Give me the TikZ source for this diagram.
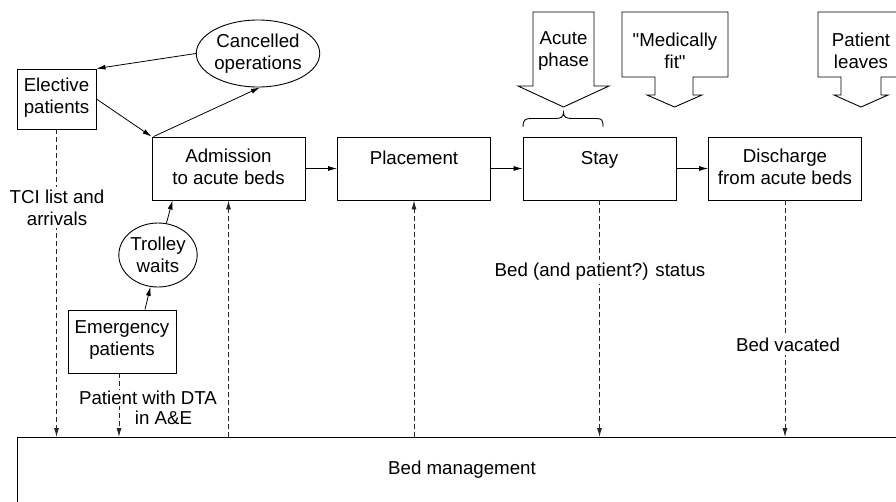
\documentclass[tikz,border=0pt]{standalone}
\usepackage{fontspec}
\setmainfont{Liberation Sans}
\newfontfamily\plainquotes{Liberation Sans}
\usetikzlibrary{arrows.meta,shapes.geometric,calc}
\begin{document}
\begin{tikzpicture}[x=1pt,y=-1pt,
  every node/.style={font=\fontsize{18.7}{22}\selectfont, inner sep=0pt, align=center},
  box/.style={draw, line width=0.9pt, minimum width=153pt, minimum height=63pt,
              execute at begin node=\strut, execute at end node=\strut},
  stepbox/.style={draw, line width=0.9pt, minimum width=153pt, minimum height=63pt,
              label={[boxtxt]north:#1}},
  boxtxt/.style={anchor=north, yshift=-12.6pt, align=center,
              execute at begin node=\strut},
  oval/.style={draw, ellipse, line width=0.9pt},
  arr/.style={line width=0.8pt, -{Latex[length=9pt,width=5pt]}},
  darr/.style={line width=0.8pt, black!85, dash pattern=on 5pt off 3pt,
               -{Latex[length=9pt,width=5pt]}},
  lbl/.style={fill=white, inner sep=3pt},
  blk/.style={draw, line width=0.9pt}]
\useasboundingbox (0,0) rectangle (896,501);
\clip (0,0) rectangle (896,501);

% main process boxes
\node[stepbox={Admission\\to acute beds}] (adm)   at (228.5,168.5) {};
\node[stepbox={Placement}]                (place) at (414,168.5)   {};
\node[stepbox={Stay}]                     (stay)  at (599.5,168.5) {};
\node[stepbox={Discharge\\from acute beds}] (disch) at (785,168.5) {};

% sources
\node[box, minimum width=79pt, minimum height=60pt] (elec) at (56.5,99) {Elective\\patients};
\node[box, minimum width=108pt, minimum height=63pt] (emerg) at (122,341.5) {Emergency\\patients};
\node[oval, minimum width=122pt, minimum height=67pt] (canc) at (258,53.5) {Cancelled\\operations};
\node[oval, minimum width=77pt, minimum height=64pt] (trol) at (158,255) {Trolley\\waits};

% bed management
\node[draw, line width=0.9pt, minimum width=950pt, minimum height=120pt, anchor=north west] (bed) at (17,437) {};
\node (bedtxt) at (462,470) {Bed management};

% solid arrows
\draw[arr] (canc.west) -- (elec.north east);
\draw[arr] (elec.east) -- (adm.north west);
\draw[arr] ([xshift=2pt]adm.north west) -- ([xshift=2pt]canc.south);
\draw[arr] ([xshift=23pt]emerg.north) -- (trol);
\draw[arr] (trol) -- ([xshift=-56pt]adm.south);
\draw[arr] (adm) -- (place);
\draw[arr] (place) -- (stay);
\draw[arr] (stay) -- (disch);

% dashed information flows
\draw[darr] (elec.south) -- (elec.south |- bed.north);
\draw[darr] ([xshift=-3pt]emerg.south) -- ([xshift=-3pt]emerg.south |- bed.north);
\draw[darr] (adm.south |- bed.north) -- (adm.south);
\draw[darr] (place.south |- bed.north) -- (place.south);
\draw[darr] (stay.south) -- (stay.south |- bed.north);
\draw[darr] (disch.south) -- (disch.south |- bed.north);

\node[lbl] (tci) at (57,207.5) {TCI list and\\arrivals};
\node[lbl, inner sep=1pt] (dta1) at (148,398) {Patient with DTA};
\node[lbl, inner sep=1pt] (dta2) at (163.5,418) {in A\&E};
\node[lbl] (bedst) at (600,272) {Bed (and patient?) status};
\node[lbl] (vac) at (788,345) {Bed vacated};

% block arrows
\draw[blk] (533,12) -- (594,12) -- (594,86) -- (609,86) -- (563.5,107) -- (518,86) -- (533,86) -- cycle;
\draw[blk] (622,12) -- (728,12) -- (728,77) -- (693,77) -- (693,95) -- (702,95) -- (674.5,107)
           -- (647,95) -- (655,95) -- (655,77) -- (622,77) -- cycle;
\draw[blk] (818,12) -- (904,12) -- (904,77) -- (881,77) -- (881,95) -- (888,95) -- (861,107)
           -- (834,95) -- (841,95) -- (841,77) -- (818,77) -- cycle;
\node (acute) at (563.5,51) {Acute\\phase};
\node[font=\plainquotes\fontsize{18.7}{22}\selectfont] (medfit) at (675,51) {"Medically\\fit"};
\node (leaves) at (861,51) {Patient\\leaves};

% brace
\draw[line width=0.9pt] (523,127) .. controls (523,120) and (525,118.5) .. (531,118.5) -- (555,118.5)
  .. controls (561,118.5) and (563.5,117) .. (563.5,112.5)
  .. controls (563.5,117) and (566,118.5) .. (572,118.5) -- (596,118.5)
  .. controls (602,118.5) and (603,120) .. (603,127);
\end{tikzpicture}
\end{document}
